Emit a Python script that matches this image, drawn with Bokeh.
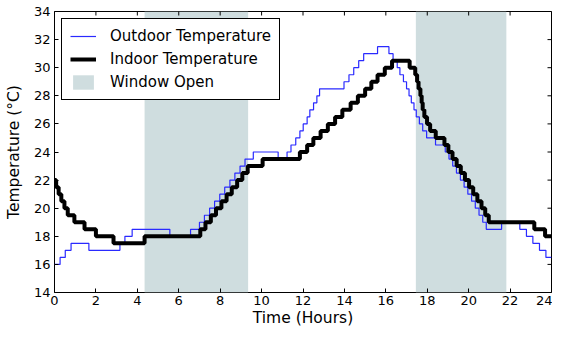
import math
from bokeh.plotting import figure
from bokeh.models import Range1d, FixedTicker, Legend, LegendItem
from bokeh.embed import file_html
from bokeh.resources import INLINE

# ---- data (hours, degrees C); each value holds until the next time ----
outdoor_t = [0.0, 0.27, 0.52, 0.8, 1.66, 3.16, 3.4, 3.75, 5.57, 6.57,
             7.0, 7.24, 7.49, 7.73, 7.98, 8.22, 8.47, 8.71, 8.96, 9.2, 9.6,
             10.8, 11.23, 11.42, 11.65, 11.85, 12.01, 12.2, 12.33, 12.51, 12.67, 12.8,
             13.98, 14.22, 14.45, 14.69, 14.93, 15.6, 16.15, 16.35, 16.55, 16.68,
             16.85, 17.0, 17.12, 17.23, 17.36, 17.47, 17.62, 17.78, 17.97, 18.4,
             18.87, 19.05, 19.23, 19.41, 19.6, 19.78, 19.96, 20.14, 20.32, 20.5,
             20.68, 20.85, 21.59, 22.47, 22.79, 23.1, 23.42, 23.73, 24.0]
outdoor_v = [16, 16.5, 17, 17.5, 17, 17.5, 18, 18.5, 18, 18.5,
             19, 19.5, 20, 20.5, 21, 21.5, 22, 22.5, 23, 23.5, 24,
             23.5, 24, 24.5, 25, 25.5, 26, 26.5, 27, 27.5, 28, 28.5,
             29, 29.5, 30, 30.5, 31, 31.5, 31, 30.5, 30, 29.5,
             29, 28.5, 28, 27.5, 27, 26.5, 26, 25.5, 25, 24.5,
             24, 23.5, 23, 22.5, 22, 21.5, 21, 20.5, 20, 19.5,
             19, 18.5, 19, 18.5, 18, 17.5, 17, 16.5, 16.5]

indoor_t = [0.0, 0.08, 0.2, 0.33, 0.48, 0.64, 0.96, 1.45, 2.0, 2.85, 4.35,
            7.04, 7.29, 7.55, 7.8, 8.06, 8.31, 8.56, 8.82, 9.07, 9.33,
            10.05, 11.85, 12.2, 12.5, 12.85, 13.2, 13.55, 13.9, 14.3, 14.65,
            15.0, 15.3, 15.6, 15.95, 16.3, 17.15, 17.42, 17.51, 17.58, 17.67,
            17.73, 17.78, 17.86, 17.99, 18.14, 18.41, 18.83, 19.02, 19.22, 19.42,
            19.62, 19.82, 20.02, 20.22, 20.42, 20.62, 20.8, 20.97, 23.17, 23.69, 24.0]
indoor_v = [22, 21.5, 21, 20.5, 20, 19.5, 19, 18.5, 18, 17.5, 18,
            18.5, 19, 19.5, 20, 20.5, 21, 21.5, 22, 22.5, 23,
            23.5, 24, 24.5, 25, 25.5, 26, 26.5, 27, 27.5, 28,
            28.5, 29, 29.5, 30, 30.5, 30, 29.5, 29, 28.5, 28,
            27.5, 27, 26.5, 26, 25.5, 25, 24.5, 24, 23.5, 23,
            22.5, 22, 21.5, 21, 20.5, 20, 19.5, 19, 18.5, 18, 18]

window_start = [4.35, 17.45]
window_end = [9.35, 21.82]

x_ticks = list(range(0, 25, 2))
y_ticks = list(range(14, 35, 2))
x_min, x_max = 0, 24
y_min, y_max = 14, 34

FONT = "DejaVu Sans"

p = figure(width=552, height=329, output_backend="svg", toolbar_location=None,
           x_range=Range1d(x_min, x_max), y_range=Range1d(y_min, y_max),
           min_border_left=54, min_border_right=1, min_border_top=11,
           min_border_bottom=32)
p.background_fill_color = "white"
p.border_fill_color = "white"
p.outline_line_color = "black"
p.outline_line_alpha = 1.0
p.outline_line_width = 1
p.grid.visible = False

win = p.quad(left=window_start, right=window_end,
             bottom=[y_min] * len(window_start), top=[y_max] * len(window_start),
             fill_color="#cfdddf", line_color=None)
out_r = p.step(outdoor_t, outdoor_v, mode="after", line_color="#2a2aff", line_width=1.2)
in_r = p.step(indoor_t, indoor_v, mode="after", line_color="black", line_width=4)

# inward ticks on the top and right edges (half of each dash is clipped by the frame)
p.scatter(x_ticks, [y_max] * len(x_ticks), marker="dash", size=8, angle=math.pi / 2,
          line_color="black", line_width=1)
p.scatter([x_max] * len(y_ticks), y_ticks, marker="dash", size=8,
          line_color="black", line_width=1)

for ax in (p.xaxis[0], p.yaxis[0]):
    ax.major_tick_in = 4
    ax.major_tick_out = 0
    ax.minor_tick_line_color = None
    ax.axis_line_color = None
    ax.major_label_text_font = FONT
    ax.major_label_text_font_size = "13px"
    ax.major_label_text_color = "black"
    ax.axis_label_text_font = FONT
    ax.axis_label_text_font_size = "15.5px"
    ax.axis_label_text_font_style = "normal"
    ax.axis_label_text_color = "black"
    ax.major_tick_line_color = "black"

p.xaxis[0].ticker = FixedTicker(ticks=x_ticks)
p.yaxis[0].ticker = FixedTicker(ticks=y_ticks)
p.xaxis[0].axis_label = "Time (Hours)"
p.yaxis[0].axis_label = "Temperature (°C)"
p.xaxis[0].major_label_standoff = 3
p.xaxis[0].axis_label_standoff = 1
p.yaxis[0].major_label_standoff = 4
p.yaxis[0].axis_label_standoff = 8

legend = Legend(items=[LegendItem(label="Outdoor Temperature", renderers=[out_r]),
                       LegendItem(label="Indoor Temperature", renderers=[in_r]),
                       LegendItem(label="Window Open", renderers=[win])],
                location="top_left")
legend.label_text_font = FONT
legend.label_text_font_size = "15px"
legend.label_text_color = "black"
legend.border_line_color = "black"
legend.border_line_width = 1
legend.border_line_alpha = 1
legend.background_fill_alpha = 1
legend.glyph_width = 26
legend.glyph_height = 18
legend.spacing = 5
legend.padding = 8
legend.margin = 7
legend.label_standoff = 14
p.add_layout(legend)

open("out.html", "w").write(file_html(p, INLINE))
